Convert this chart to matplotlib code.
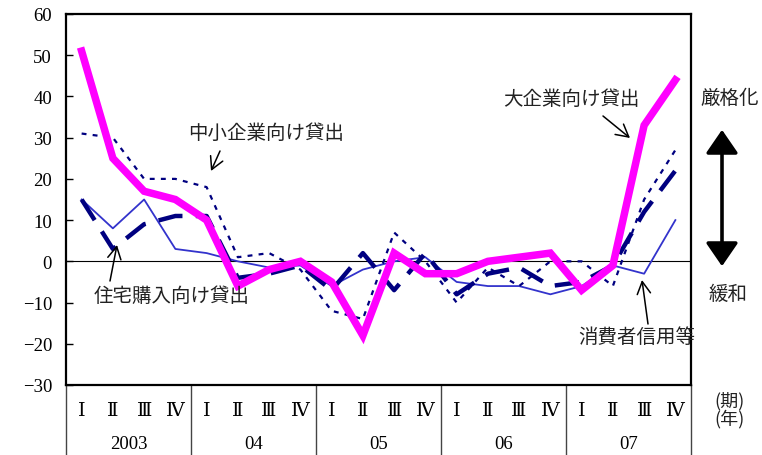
import matplotlib
matplotlib.use("Agg")
import matplotlib.pyplot as plt
from matplotlib.transforms import blended_transform_factory

plt.rcParams['font.family'] = ['Liberation Serif', 'DejaVu Serif', 'DejaVu Sans', 'Noto Sans CJK JP']

# ---- data ----
years = ["2003", "04", "05", "06", "07"]
quarters = ["Ⅰ", "Ⅱ", "Ⅲ", "Ⅳ"]
large_corp = [51, 25, 17, 15, 10, -6, -2, 0, -5, -18, 2, -3, -3, 0, 1, 2, -7, -1, 33, 44]
small_corp = [31, 30, 20, 20, 18, 1, 2, -2, -12, -14, 7, 0, -10, -1.5, -6, 0, 0, -6, 15, 27]
housing = [15, 3, 9, 11, 11, -4, -3, -1, -7, 2, -7, 2, -8, -3, -1.5, -6, -5, -1, 12, 22]
consumer = [15, 8, 15, 3, 2, 0, -1.5, -1, -6, -2, 0, 1, -5, -6, -6, -8, -6, -1, -3, 10]
yticks = [-30, -20, -10, 0, 10, 20, 30, 40, 50, 60]

n = len(large_corp)
x = list(range(n))

W, H = 762, 456
fig = plt.figure(figsize=(W / 100, H / 100), dpi=100)
L, R, T, B = 66, 691, 15, 386
ax = fig.add_axes([L / W, 1 - B / H, (R - L) / W, (B - T) / H])

ax.axhline(0, color='black', lw=0.8, zorder=1)

ax.plot(x, consumer, color='#3333CC', lw=1.3, zorder=2)
l_small, = ax.plot(x, small_corp, color='#000080', lw=1.6, zorder=3)
l_small.set_dashes((2.2, 2.8))
l_house, = ax.plot(x, housing, color='#000080', lw=3.2, zorder=4)
l_house.set_dashes((5.5, 3.0))
ax.plot(x, large_corp, color='#FF00FF', lw=5.4, zorder=5, solid_joinstyle='miter')

ax.set_xlim(-0.5, n - 0.5)
ax.set_ylim(-30, 60)
ax.set_yticks(yticks)
ax.set_xticks([])
ax.tick_params(axis='y', direction='in', length=5, width=1, pad=10, labelsize=13.5)
for s in ax.spines.values():
    s.set_linewidth(1.6)

# bottom category table
trans = blended_transform_factory(ax.transData, ax.transAxes)
bot = -(H - B) / (B - T)
for i in range(n):
    ax.text(i, -0.067, quarters[i % 4], transform=trans, ha='center', va='center',
            fontsize=14, family=['DejaVu Serif', 'Noto Sans CJK JP'], clip_on=False)
for k, yr in enumerate(years):
    ax.text(4 * k + 1.5, -0.157, yr, transform=trans, ha='center', va='center',
            fontsize=13.5, clip_on=False)
for k in range(len(years) + 1):
    ax.plot([4 * k - 0.5, 4 * k - 0.5], [0, bot], transform=trans, color='#444444',
            lw=1.0, clip_on=False)

jp = ['Noto Sans CJK JP', 'DejaVu Sans']


def axf(px, py):
    return ((px - L) / (R - L), (B - py) / (B - T))


def label(txt, tpos, tail, tip):
    ax.text(*axf(*tpos), txt, transform=ax.transAxes, ha='center', va='center',
            fontsize=14, family=jp, color='#222222', zorder=6)
    ax.annotate('', xy=axf(*tip), xytext=axf(*tail), xycoords='axes fraction',
                textcoords='axes fraction',
                arrowprops=dict(arrowstyle='->,head_length=0.55,head_width=0.3',
                                color='black', lw=1.1,
                                mutation_scale=16, shrinkA=0, shrinkB=0), zorder=6)


label("中小企業向け貸出", (266, 133), (220, 152), (211, 172))
label("住宅購入向け貸出", (172, 297), (110, 282), (117, 246))
label("大企業向け貸出", (571, 100), (603, 117), (630, 139))
label("消費者信用等", (637, 338), (648, 325), (642, 281))

# right side notes
fig.text(730 / W, 1 - 98 / H, "厳格化", ha='center', va='center', fontsize=14,
         family=jp, color='#222222')
fig.text(728 / W, 1 - 294 / H, "緩和", ha='center', va='center', fontsize=14,
         family=jp, color='#222222')
fig.text(730 / W, 1 - 401 / H, "(期)", ha='center', va='center', fontsize=13,
         family=jp, color='#222222')
fig.text(730 / W, 1 - 419 / H, "(年)", ha='center', va='center', fontsize=13,
         family=jp, color='#222222')
fig.patches.append(matplotlib.patches.FancyArrowPatch(
    (722 / W, 1 - 128 / H), (722 / W, 1 - 270 / H), transform=fig.transFigure,
    arrowstyle='<|-|>,head_length=0.8,head_width=0.55', mutation_scale=18,
    color='black', lw=2.6))

fig.savefig("out.png", dpi=100)
